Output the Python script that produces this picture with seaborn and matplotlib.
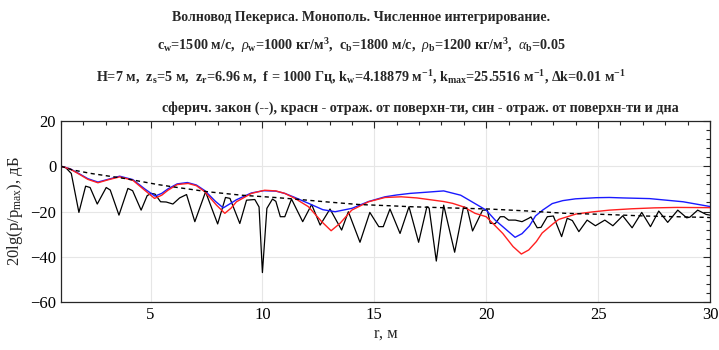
import pandas as pd
import matplotlib
matplotlib.use("Agg")
import matplotlib.pyplot as plt
import seaborn as sns

# range, m
r_black = [1.0, 1.2, 1.46, 1.8, 2.1, 2.3, 2.62, 3.02, 3.2, 3.59, 3.99, 4.2, 4.58, 4.85,
           5.03, 5.2, 5.45, 5.7, 6.0, 6.3, 6.61, 6.98, 7.46, 8.0, 8.35, 8.55, 8.99, 9.29,
           9.66, 9.85, 10.0, 10.2, 10.45, 10.6, 10.8, 11.0, 11.3, 11.8, 12.2, 12.58, 13.02,
           13.54, 13.84, 14.36, 14.8, 15.2, 15.4, 15.7, 16.15, 16.55, 16.98, 17.35, 17.45,
           17.77, 18.1, 18.59, 18.99, 19.15, 19.39, 19.84, 20.05, 20.18, 20.4, 20.63, 20.8,
           21.0, 21.3, 21.6, 21.9, 22.0, 22.28, 22.45, 22.73, 23.0, 23.37, 23.62, 23.85,
           24.14, 24.51, 24.88, 25.3, 25.66, 26.1, 26.52, 26.95, 27.34, 27.71, 28.11, 28.56,
           28.96, 29.1, 29.45, 29.83, 30.0]
db_black = [0, -0.5, -3.2, -20.4, -8.8, -9.4, -16.7, -9.4, -10.5, -21.6, -9.8, -10.8, -19.4, -13,
            -12, -12.3, -15.7, -15.8, -16.7, -14, -12.5, -24.5, -11.3, -25.5, -13.8, -14.2, -25.3, -15,
            -14.7, -18, -47, -18.6, -14.5, -15.5, -22.3, -22.3, -14.5, -24.5, -16.9, -26, -18.9,
            -28.2, -20.1, -33.6, -20.4, -26.7, -26.7, -18.9, -29.7, -17.9, -33.6, -17.9, -18.5,
            -41.9, -17.2, -38, -17.9, -18.5, -28.6, -19.4, -19.4, -25.2, -25.4, -22.3, -22.3,
            -23.8, -23.8, -24.5, -23, -22.4, -27.2, -27, -22.3, -22, -31.1, -23, -24,
            -28.9, -23.8, -26.3, -23.8, -26.3, -21.9, -27.2, -20.4, -26.7, -19.8, -24.8, -19.4,
            -22.8, -22.5, -19.4, -21.3, -21.6]

r_red = [1.0, 1.4, 1.76, 2.2, 2.65, 3.1, 3.62, 4.21, 4.74, 5.18, 5.5, 5.78, 6.19, 6.68, 7.05,
         7.43, 7.95, 8.32, 8.6, 8.84, 9.51, 10.1, 10.6, 11.0, 11.45, 12.06, 12.65, 13.07, 13.47,
         13.99, 14.74, 15.48, 16.2, 16.9, 17.5, 18.1, 18.5, 19.0, 19.5, 20.0, 20.74, 21.2, 21.57,
         21.9, 22.24, 22.5, 22.98, 23.24, 24.02, 24.73, 25.5, 26.5, 27.5, 28.5, 30.0]
db_red = [0, -1.2, -3.2, -5.8, -7.3, -6, -4.7, -6.2, -10.6, -14.2, -12.8, -10.6, -8.1, -7.6, -8.6,
          -11.3, -17.2, -20.8, -18.5, -15.7, -12, -10.6, -10.9, -12, -14.2, -17.9, -24.5, -28.5, -25.2,
          -19.4, -15.7, -13.8, -13.5, -14, -14.8, -15.6, -16.4, -18, -20.8, -22.3, -29.7, -35.5, -38.8,
          -37, -33.3, -29.5, -25.5, -23.5, -21.1, -20.2, -19.4, -18.8, -18.4, -18.2, -18.3]

r_blue = [1.0, 1.4, 1.76, 2.2, 2.65, 3.1, 3.62, 4.21, 4.74, 5.2, 5.5, 5.78, 6.19, 6.65, 7.05,
          7.43, 7.9, 8.25, 8.6, 8.84, 9.51, 10.05, 10.6, 11.0, 11.45, 12.06, 12.7, 13.25, 14.0,
          14.74, 15.48, 16.0, 16.6, 17.3, 18.1, 18.86, 19.5, 20.0, 20.4, 20.74, 21.29, 21.6, 21.93,
          22.2, 22.52, 22.95, 23.42, 23.99, 24.91, 25.5, 26.1, 27.3, 28.8, 30.0]
db_blue = [0, -1.1, -3.0, -5.5, -7.0, -5.8, -4.4, -5.9, -10, -13.2, -12, -10, -7.8, -7.2, -8.3,
           -10.8, -15.5, -18.4, -16.3, -14.8, -11.8, -10.8, -11, -12, -13.8, -16.4, -19.2, -20.1, -18.6,
           -15.6, -13.5, -12.7, -12, -11.5, -10.9, -12.8, -16.5, -19.4, -23.8, -26.7, -31.4, -29.8, -26.4,
           -22, -19.4, -16.5, -15.2, -14.4, -13.9, -13.8, -14.0, -14.3, -15.7, -17.8]

r_sph = [1.0, 1.5, 2.35, 3.84, 5.33, 6.07, 7.58, 9.07, 10.55, 11.45, 12.8, 14.29, 15.78, 16.67,
         18.32, 20.1, 21.9, 23.54, 25.33, 27.12, 29.83, 30.0]
db_sph = [0, -1.6, -3.2, -5.4, -8.1, -9.2, -11.3, -12.8, -13.8, -14.5, -15.7, -16.9, -17.5, -17.9,
          -18.4, -18.9, -19.8, -20.8, -21.3, -22, -22.6, -22.7]

sns.set_style("white")
plt.rcParams["font.family"] = ["Liberation Serif", "DejaVu Serif"]
plt.rcParams["mathtext.fontset"] = "custom"
plt.rcParams["mathtext.rm"] = "Liberation Serif"
plt.rcParams["mathtext.it"] = "Liberation Serif:italic"
plt.rcParams["mathtext.bf"] = "Liberation Serif:bold"

fig = plt.figure(figsize=(7.19, 3.5), dpi=100)
ax = fig.add_axes([61 / 719, 1 - 302 / 350, (710 - 61) / 719, (302 - 121) / 350])

df_black = pd.DataFrame({"r": r_black, "db": db_black})
df_red = pd.DataFrame({"r": r_red, "db": db_red})
df_blue = pd.DataFrame({"r": r_blue, "db": db_blue})
df_sph = pd.DataFrame({"r": r_sph, "db": db_sph})

sns.lineplot(data=df_black, x="r", y="db", color="black", linewidth=0.9, ax=ax)
sns.lineplot(data=df_blue, x="r", y="db", color="#1a1aff", linewidth=1.0, ax=ax)
sns.lineplot(data=df_red, x="r", y="db", color="#ff2020", linewidth=1.0, ax=ax)
sns.lineplot(data=df_sph, x="r", y="db", color="black", linewidth=1.0, linestyle=(0, (3, 2.5)), ax=ax)

ax.set_xlim(1, 30)
ax.set_ylim(-60, 20)
ax.set_xticks([5, 10, 15, 20, 25, 30])
ax.set_yticks([-60, -40, -20, 0, 20])
ax.set_xticks(range(1, 31), minor=True)
ax.set_yticks(range(-60, 21, 4), minor=True)
ax.tick_params(which="both", direction="in", top=True, right=True, colors="#262626",
               labelcolor="black", labelsize=12)
ax.tick_params(which="major", length=5, width=0.8)
ax.tick_params(which="minor", length=3, width=0.8)
ax.grid(True, which="major", color="#e6e6e6", linewidth=0.8)
for s in ax.spines.values():
    s.set_color("#262626")
    s.set_linewidth(0.9)

ax.set_xlabel("r, м", fontsize=12, labelpad=2)
ax.set_ylabel(r"20lg(p/p$_\mathrm{max}$), дБ", fontsize=12, labelpad=4)

fs = 10.2
fig.text(0.502, 1 - 18 / 350, "Волновод Пекериса. Монополь. Численное интегрирование.",
         ha="center", va="center", fontsize=10, fontweight="bold")
fig.text(0.503, 1 - 46 / 350,
         r"c$_\mathbf{w}$=1500 м/с,  $\rho_\mathbf{w}$=1000 кг/м$^\mathbf{3}$,  c$_\mathbf{b}$=1800 м/с,  "
         r"$\rho_\mathbf{b}$=1200 кг/м$^\mathbf{3}$,  $\alpha_\mathbf{b}$=0.05",
         ha="center", va="center", fontsize=fs, fontweight="bold")
fig.text(0.502, 1 - 77 / 350,
         r"H=7 м,  z$_\mathbf{s}$=5 м,  z$_\mathbf{r}$=6.96 м,  f = 1000 Гц, k$_\mathbf{w}$=4.18879 м$^\mathbf{{-}1}$, "
         r"k$_\mathbf{max}$=25.5516 м$^\mathbf{{-}1}$, Δk=0.01 м$^\mathbf{{-}1}$",
         ha="center", va="center", fontsize=fs, fontweight="bold")
fig.text(0.584, 1 - 108 / 350,
         "сферич. закон (--), красн - отраж. от поверхн-ти, син - отраж. от поверхн-ти и дна",
         ha="center", va="center", fontsize=fs, fontweight="bold")

fig.savefig("out.png", dpi=100)
